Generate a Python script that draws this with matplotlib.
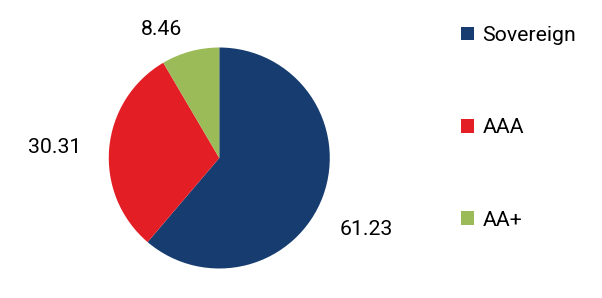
import numpy as np
import matplotlib.pyplot as plt
from matplotlib.patches import Patch

plt.rcParams['font.family'] = ['Roboto', 'DejaVu Sans']

categories = ['Sovereign', 'AAA', 'AA+']
values = [61.23, 30.31, 8.46]
colors = ['#173d70', '#e31e25', '#9bbb59']

# label placement relative to the wedge middle (distance in radii, angle tweak in deg)
label_dist = [1.48, 1.49, 1.28]
label_shift = [-5.6, 1.5, 9.0]

fig = plt.figure(figsize=(6.02, 2.98), dpi=100)
ax = fig.add_axes([0.1807, 0.099, 0.3671, 0.7416])

wedges, _ = ax.pie(values, colors=colors, startangle=90, counterclock=False,
                   radius=1, wedgeprops=dict(linewidth=0))
ax.set_xlim(-1, 1)
ax.set_ylim(-1, 1)
ax.set_aspect('equal')
ax.axis('off')

for w, v, d, s in zip(wedges, values, label_dist, label_shift):
    a = np.deg2rad((w.theta1 + w.theta2) / 2 + s)
    ax.text(d * np.cos(a), d * np.sin(a), f'{v:.2f}', ha='center', va='center',
            fontsize=15.3, color='black')

handles = [Patch(facecolor=c, edgecolor='none') for c in colors]
fig.legend(handles, categories, loc='upper left', bbox_to_anchor=(461 / 602, 1 - 26 / 298),
           frameon=False, fontsize=15.3, handlelength=0.6, handleheight=0.6,
           handletextpad=0.4, labelspacing=3.45, borderpad=0, borderaxespad=0)

fig.savefig('out.png', dpi=100)
